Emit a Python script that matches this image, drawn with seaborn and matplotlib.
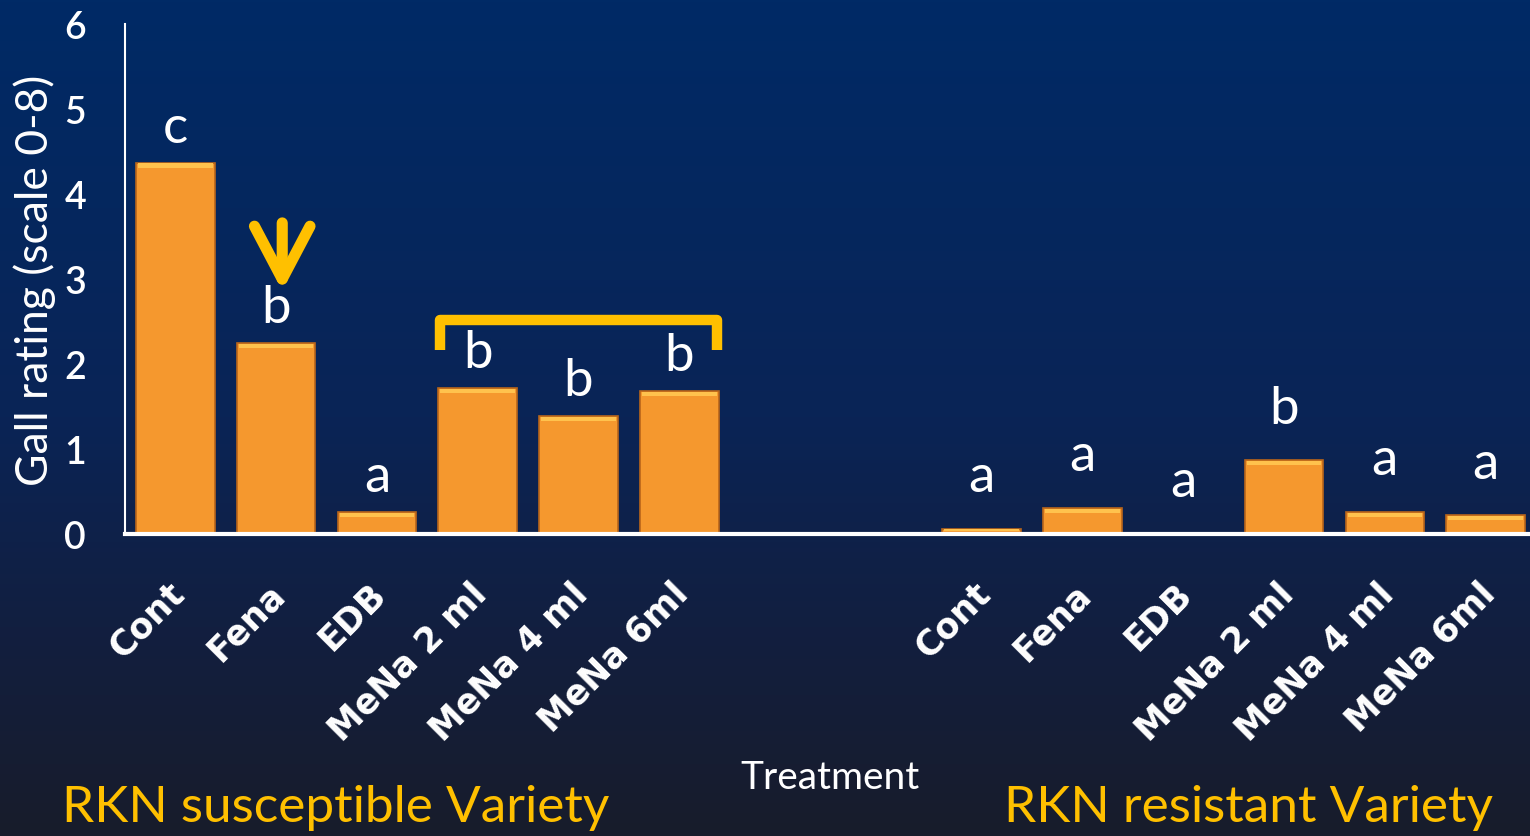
import numpy as np
import pandas as pd
import matplotlib
matplotlib.use('Agg')
import matplotlib.pyplot as plt
import matplotlib.transforms as mtransforms
from matplotlib import font_manager
from matplotlib.colors import LinearSegmentedColormap
import seaborn as sns

# data
treatments = ['Cont', 'Fena', 'EDB', 'MeNa 2 ml', 'MeNa 4 ml', 'MeNa 6ml']
susceptible = [4.37, 2.25, 0.26, 1.72, 1.39, 1.68]
resistant = [0.06, 0.31, 0.0, 0.87, 0.26, 0.22]
letters_susceptible = ['c', 'b', 'a', 'b', 'b', 'b']
letters_resistant = ['a', 'a', 'a', 'b', 'a', 'a']
y_ticks = [0, 1, 2, 3, 4, 5, 6]

ORANGE = '#F5982E'
YELLOW = '#FFC000'

keys_s = ['S ' + t for t in treatments]
keys_r = ['R ' + t for t in treatments]
order = keys_s + ['gap1', 'gap2'] + keys_r

df = pd.DataFrame({
    'key': keys_s + keys_r,
    'rating': susceptible + resistant,
    'letter': letters_susceptible + letters_resistant,
    'group': ['S'] * len(treatments) + ['R'] * len(treatments),
})

sns.set_style('white')
plt.rcParams['font.family'] = ['Lato', 'DejaVu Sans']

# narrow font for the captions if one is there
names = {f.name for f in font_manager.fontManager.ttflist}
narrow = 'Liberation Sans Narrow' if 'Liberation Sans Narrow' in names else 'Lato'

fig = plt.figure(figsize=(15.3, 8.37), dpi=100)

# background gradient
bg = fig.add_axes([0, 0, 1, 1], zorder=-10)
cmap = LinearSegmentedColormap.from_list('bg', [(0, '#002a66'), (0.5, '#0a2456'), (0.75, '#121f40'), (1, '#181c2b')])
bg.imshow(np.linspace(0, 1, 256).reshape(-1, 1), aspect='auto', cmap=cmap, extent=[0, 1, 0, 1])
bg.axis('off')

ax = fig.add_axes([125 / 1530, 1 - 535 / 837, 1 - 125 / 1530, 510 / 837])
ax.set_facecolor('none')

sns.barplot(data=df, x='key', y='rating', order=order, color=ORANGE, width=0.78,
            saturation=1, edgecolor='#B8651A', linewidth=1.2, ax=ax)

# top highlight on bars
for p in ax.patches:
    h = p.get_height()
    if h > 0:
        ax.add_patch(plt.Rectangle((p.get_x() + 0.02, h - min(0.06, h * 0.4)), p.get_width() - 0.04,
                                   min(0.05, h * 0.3), color='#FFC24D', lw=0, zorder=3))

ax.set_xlim(-0.5, 13.44)
ax.set_ylim(0, 6)
ax.set_yticks(y_ticks)
ax.set_xticks(range(len(order)))
ax.set_xticklabels(treatments + ['', ''] + treatments, rotation=45, ha='right',
                   rotation_mode='anchor', fontsize=25, fontweight='bold', color='white',
                   family='DejaVu Sans')
ax.tick_params(axis='x', length=0, pad=30)
shift = mtransforms.ScaledTranslation(-6 / 72, 0, fig.dpi_scale_trans)
for lab in ax.get_xticklabels():
    lab.set_transform(lab.get_transform() + shift)
ax.tick_params(axis='y', colors='white', labelsize=27, length=10, width=1.5, direction='out', pad=18)
for lab in ax.get_yticklabels():
    lab.set_color('white')
    lab.set_fontweight('semibold')

for s in ['top', 'right']:
    ax.spines[s].set_visible(False)
ax.spines['left'].set_color('white')
ax.spines['left'].set_linewidth(1.5)
ax.spines['bottom'].set_color('white')
ax.spines['bottom'].set_linewidth(3)

ax.set_xlabel('')
ax.set_ylabel('Gall rating (scale 0-8)', color='white', fontsize=32)
ax.yaxis.set_label_coords(-0.064, 0.5)
ax.yaxis.label.set_va('center')

# significance letters
pos = {k: i for i, k in enumerate(order)}
for _, row in df.iterrows():
    off = 15 if row['group'] == 'S' else 27
    ax.annotate(row['letter'], (pos[row['key']], row['rating']), xytext=(0, off),
                textcoords='offset points', ha='center', va='baseline',
                color='white', fontsize=38)

# bracket over MeNa treatments
x0, x1 = pos['S MeNa 2 ml'] - 0.37, pos['S MeNa 6ml'] + 0.37
ax.plot([x0, x0, x1, x1], [2.16, 2.52, 2.52, 2.16], color=YELLOW, lw=7.5,
        solid_joinstyle='round', solid_capstyle='butt', zorder=5)

# arrow pointing at Fena
xf = pos['S Fena']
ax.annotate('', xy=(xf + 0.06, 2.86), xytext=(xf + 0.06, 3.66),
            arrowprops=dict(arrowstyle='->, head_length=1.9, head_width=1.0',
                            mutation_scale=20, color=YELLOW, lw=8,
                            capstyle='round', joinstyle='round',
                            shrinkA=0, shrinkB=0))

fig.text(830 / 1530, 1 - 778 / 837, 'Treatment', color='white', fontsize=28,
         ha='center', va='center', family=narrow)
fig.text(62 / 1530, 1 - 808 / 837, 'RKN susceptible Variety', color=YELLOW, fontsize=37,
         ha='left', va='center', family=narrow)
fig.text(1493 / 1530, 1 - 808 / 837, 'RKN resistant Variety', color=YELLOW, fontsize=37,
         ha='right', va='center', family=narrow)

fig.savefig('out.png', dpi=100)
